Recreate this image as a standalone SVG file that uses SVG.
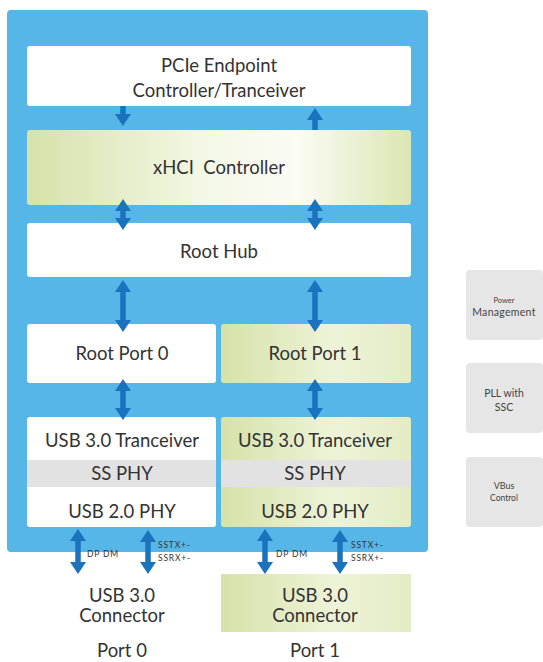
<svg xmlns="http://www.w3.org/2000/svg" width="543" height="662" viewBox="0 0 543 662">
<defs>
<linearGradient id="green" x1="0" y1="0" x2="1" y2="0">
<stop offset="0" stop-color="#d6e2aa"/>
<stop offset="0.45" stop-color="#f3f7e4"/>
<stop offset="0.7" stop-color="#fbfcf5"/>
<stop offset="1" stop-color="#dbe6b3"/>
</linearGradient>
<linearGradient id="green2" x1="0" y1="0" x2="1" y2="0">
<stop offset="0" stop-color="#d6e2aa"/>
<stop offset="0.6" stop-color="#eef3d8"/>
<stop offset="1" stop-color="#e4ecc4"/>
</linearGradient>
<marker id="ah" markerUnits="userSpaceOnUse" markerWidth="12" markerHeight="16" viewBox="0 0 12 16" refX="8" refY="8" orient="auto-start-reverse">
<path d="M0,0 L12,8 L0,16 z" fill="#1b72bd"/>
</marker>
<style>
.box{fill:#ffffff}
.g{fill:url(#green)}
.g2{fill:url(#green2)}
.side{fill:#e6e6e6}
.t{font-family:Lato,"Open Sans",sans-serif;font-size:18.5px;fill:#333333;text-anchor:middle}
.s{font-family:Lato,"Open Sans",sans-serif;font-size:10.5px;fill:#444444;text-anchor:middle}
.lbl{font-family:Lato,"Open Sans",sans-serif;font-size:8.5px;fill:#333333;letter-spacing:0.8px}
.ar{stroke:#1b72bd;stroke-width:5.5;fill:none}
</style>
</defs>
<rect id="chip" x="7" y="10" width="421" height="542" rx="4" fill="#56b6e7"/>
<g id="pcie"><rect class="box" x="27" y="46" width="384" height="60" rx="3"/><text class="t" x="219" y="72">PCIe Endpoint</text><text class="t" x="219" y="97">Controller/Tranceiver</text></g>
<g id="xhci"><rect class="g" x="27" y="130" width="384" height="75" rx="3"/><text class="t" x="219" y="174" xml:space="preserve">xHCI  Controller</text></g>
<g id="roothub"><rect class="box" x="27" y="223" width="384" height="54" rx="3"/><text class="t" x="219" y="258">Root Hub</text></g>
<g id="rootport0"><rect class="box" x="27" y="324" width="189" height="59" rx="3"/><text class="t" x="122" y="360">Root Port 0</text></g>
<g id="rootport1"><rect class="g2" x="221" y="324" width="190" height="59" rx="3"/><text class="t" x="315" y="360">Root Port 1</text></g>
<g id="phy0"><rect class="box" x="27" y="417" width="189" height="110" rx="3"/><rect fill="#e2e2e2" x="27" y="460" width="189" height="27"/><text class="t" x="122" y="447">USB 3.0 Tranceiver</text><text class="t" x="122" y="480">SS PHY</text><text class="t" x="122" y="518">USB 2.0 PHY</text></g>
<g id="phy1"><rect class="g2" x="221" y="417" width="190" height="110" rx="3"/><rect fill="#e2e2e2" x="221" y="460" width="190" height="27"/><text class="t" x="315" y="447">USB 3.0 Tranceiver</text><text class="t" x="315" y="480">SS PHY</text><text class="t" x="315" y="518">USB 2.0 PHY</text></g>
<g id="conn0"><text class="t" x="122" y="602">USB 3.0</text><text class="t" x="122" y="622">Connector</text></g>
<g id="conn1"><rect class="g2" x="221" y="574" width="190" height="58"/><text class="t" x="315" y="602">USB 3.0</text><text class="t" x="315" y="622">Connector</text></g>
<g id="port0"><text class="t" x="122" y="657">Port 0</text></g>
<g id="port1"><text class="t" x="315" y="657">Port 1</text></g>
<g id="power"><rect class="side" x="466" y="270" width="77" height="70" rx="4"/><text class="s" x="504" y="303" style="font-size:7.5px">Power</text><text class="s" x="504" y="316" style="letter-spacing:0.3px">Management</text></g>
<g id="pll"><rect class="side" x="466" y="363" width="77" height="70" rx="4"/><text class="s" x="504" y="397">PLL with</text><text class="s" x="504" y="411">SSC</text></g>
<g id="vbus"><rect class="side" x="466" y="457" width="77" height="70" rx="4"/><text class="s" x="504" y="489" style="font-size:9px">VBus</text><text class="s" x="504" y="501" style="font-size:8.5px">Control</text></g>
<g id="connectors">
<line class="ar" x1="123" y1="106" x2="122.9" y2="122" marker-end="url(#ah)"/>
<line class="ar" x1="315" y1="130" x2="315.01" y2="112" marker-end="url(#ah)"/>
<line class="ar" x1="123" y1="203" x2="123.01" y2="226" marker-start="url(#ah)" marker-end="url(#ah)"/>
<line class="ar" x1="315" y1="203" x2="315.01" y2="226" marker-start="url(#ah)" marker-end="url(#ah)"/>
<line class="ar" x1="123" y1="284" x2="123.01" y2="328" marker-start="url(#ah)" marker-end="url(#ah)"/>
<line class="ar" x1="315" y1="284" x2="315.01" y2="328" marker-start="url(#ah)" marker-end="url(#ah)"/>
<line class="ar" x1="123" y1="383" x2="123.01" y2="416" marker-start="url(#ah)" marker-end="url(#ah)"/>
<line class="ar" x1="315" y1="383" x2="315.01" y2="416" marker-start="url(#ah)" marker-end="url(#ah)"/>
<line class="ar" x1="78" y1="533" x2="78.01" y2="570" marker-start="url(#ah)" marker-end="url(#ah)"/>
<line class="ar" x1="148" y1="534" x2="148.01" y2="570" marker-start="url(#ah)" marker-end="url(#ah)"/>
<line class="ar" x1="265" y1="533" x2="265.01" y2="570" marker-start="url(#ah)" marker-end="url(#ah)"/>
<line class="ar" x1="340" y1="534" x2="340.01" y2="570" marker-start="url(#ah)" marker-end="url(#ah)"/>
<text class="lbl" x="87" y="557">DP DM</text>
<text class="lbl" x="158" y="548">SSTX+-</text>
<text class="lbl" x="158" y="561">SSRX+-</text>
<text class="lbl" x="276" y="557">DP DM</text>
<text class="lbl" x="351" y="548">SSTX+-</text>
<text class="lbl" x="351" y="561">SSRX+-</text>
</g>
</svg>
